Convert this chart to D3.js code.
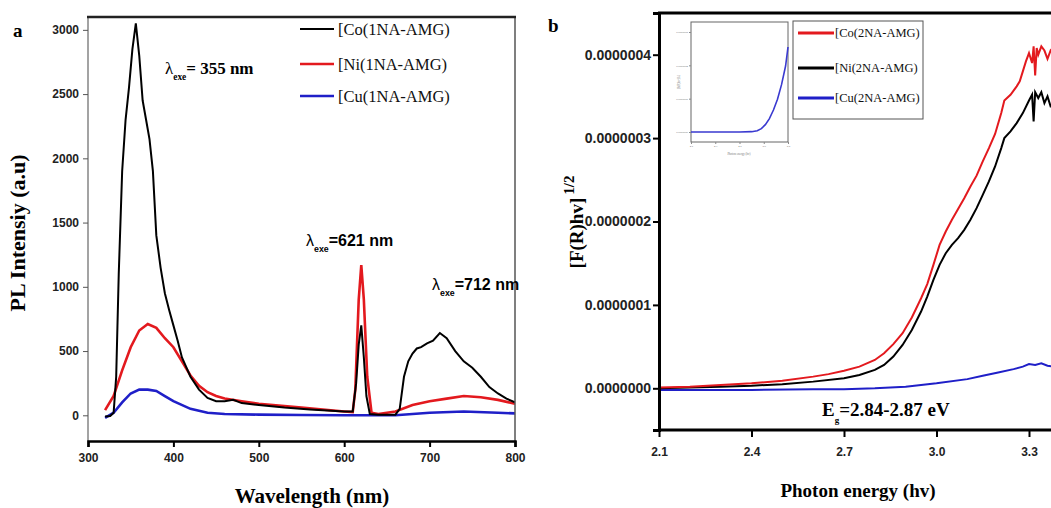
<!DOCTYPE html>
<html>
<head>
<meta charset="utf-8">
<script src="https://cdn.jsdelivr.net/npm/d3@7"></script>
<style>
  html, body { margin: 0; padding: 0; background: #fff; }
  svg { display: block; }
  .serif { font-family: "Liberation Serif", "DejaVu Serif", serif; font-weight: bold; }
  .sans { font-family: "Liberation Sans", Arial, sans-serif; font-weight: bold; }
</style>
</head>
<body>
<svg id="chart" width="1051" height="508"></svg>
<script>
// ---- panel a: PL spectra (wavelength nm, intensity a.u.) ----
const wlCo = [320, 326, 330, 333, 336, 340, 344, 348, 352, 356, 360, 364, 368, 372, 376, 380, 385, 390, 395, 400, 405, 410, 420, 430, 440, 450, 460, 470, 480, 500, 530, 560, 600, 610, 614, 617, 620, 623, 626, 630, 640, 660, 665, 670, 675, 680, 685, 690, 697, 704, 712, 720, 730, 740, 750, 760, 770, 780, 790, 800];
const plCo = [-10, -5, 20, 300, 1100, 1900, 2300, 2550, 2850, 3050, 2800, 2450, 2300, 2150, 1900, 1400, 1150, 950, 820, 700, 580, 450, 300, 200, 135, 110, 110, 120, 95, 80, 60, 45, 30, 30, 250, 550, 700, 450, 150, 10, 5, 5, 50, 300, 420, 480, 520, 530, 560, 580, 640, 600, 500, 420, 370, 300, 220, 170, 130, 100];

const wlNi = [320, 330, 340, 350, 360, 370, 380, 390, 400, 410, 420, 430, 440, 450, 460, 480, 500, 550, 600, 610, 613, 617, 620, 623, 627, 632, 640, 660, 680, 700, 720, 740, 760, 780, 800];
const plNi = [40, 150, 350, 530, 660, 710, 680, 600, 530, 420, 310, 230, 180, 150, 130, 110, 90, 60, 30, 25, 200, 900, 1170, 900, 300, 20, 10, 30, 80, 110, 130, 150, 140, 120, 90];

const wlCu = [320, 330, 340, 350, 360, 370, 380, 390, 400, 420, 440, 460, 500, 550, 600, 660, 700, 740, 780, 800];
const plCu = [-20, 20, 100, 170, 200, 200, 190, 150, 110, 50, 20, 10, 5, 2, 0, 0, 20, 30, 20, 15];

const yTicksA = [0, 500, 1000, 1500, 2000, 2500, 3000];
const xTicksA = [300, 400, 500, 600, 700, 800];
const legendA = ["[Co(1NA-AMG)", "[Ni(1NA-AMG)", "[Cu(1NA-AMG)"];

// ---- panel b: Kubelka-Munk plot (photon energy, [F(R)hv]^1/2 in 1e-7) ----
const evCo = [2.10, 2.20, 2.30, 2.40, 2.50, 2.60, 2.65, 2.70, 2.75, 2.80, 2.83, 2.86, 2.89, 2.92, 2.95, 2.97, 2.99, 3.01, 3.03, 3.05, 3.07, 3.09, 3.11, 3.13, 3.15, 3.17, 3.19, 3.21, 3.22, 3.24, 3.26, 3.27, 3.28, 3.29, 3.30, 3.31, 3.315, 3.32, 3.325, 3.33, 3.34, 3.35, 3.36, 3.37, 3.38];
const kmCo = [0.01, 0.02, 0.04, 0.06, 0.09, 0.14, 0.17, 0.21, 0.26, 0.34, 0.42, 0.53, 0.66, 0.85, 1.08, 1.25, 1.48, 1.72, 1.88, 2.02, 2.15, 2.28, 2.42, 2.55, 2.72, 2.88, 3.05, 3.30, 3.45, 3.52, 3.62, 3.68, 3.80, 3.92, 4.02, 3.90, 4.10, 3.75, 4.08, 4.00, 4.10, 4.05, 3.95, 4.05, 4.00];

const evNi = [2.10, 2.30, 2.40, 2.50, 2.60, 2.70, 2.75, 2.80, 2.83, 2.86, 2.89, 2.92, 2.95, 2.97, 2.99, 3.01, 3.03, 3.05, 3.07, 3.09, 3.11, 3.13, 3.15, 3.17, 3.19, 3.21, 3.22, 3.24, 3.26, 3.28, 3.30, 3.31, 3.315, 3.32, 3.33, 3.34, 3.35, 3.36, 3.37, 3.38];
const kmNi = [0.00, 0.02, 0.03, 0.05, 0.08, 0.12, 0.16, 0.22, 0.28, 0.38, 0.52, 0.70, 0.92, 1.10, 1.30, 1.48, 1.62, 1.72, 1.80, 1.90, 2.02, 2.16, 2.32, 2.48, 2.66, 2.88, 3.00, 3.08, 3.18, 3.30, 3.45, 3.52, 3.20, 3.55, 3.48, 3.55, 3.42, 3.50, 3.38, 3.40];

const evCu = [2.10, 2.40, 2.60, 2.70, 2.80, 2.90, 3.00, 3.10, 3.15, 3.20, 3.25, 3.28, 3.30, 3.32, 3.34, 3.36, 3.38];
const kmCu = [-0.02, -0.02, -0.01, -0.01, 0.00, 0.02, 0.06, 0.11, 0.15, 0.19, 0.23, 0.26, 0.29, 0.28, 0.30, 0.27, 0.26];

const yTicksB = [0, 1, 2, 3, 4];
const xTicksB = [2.1, 2.4, 2.7, 3.0, 3.3];
const legendB = ["[Co(2NA-AMG)", "[Ni(2NA-AMG)", "[Cu(2NA-AMG)"];

// inset (Cu curve, zoomed)
const insetX = [2.10, 2.40, 2.70, 2.85, 2.92, 2.97, 3.02, 3.07, 3.12, 3.17, 3.22, 3.27, 3.30];
const insetY = [0.00, 0.00, 0.00, 0.01, 0.04, 0.10, 0.22, 0.40, 0.66, 0.98, 1.42, 1.98, 2.55];
const insetYTicks = [0, 1, 2, 3];

const RED = "#e3191e", BLUE = "#1f1fc8", BLACK = "#000";
const SANS = '"Liberation Sans", Arial, sans-serif';

const svg = d3.select("#chart");

function styleTicks(sel, size) {
  sel.selectAll("text")
    .style("font-family", SANS).style("font-weight", "bold")
    .style("font-size", size + "px").attr("fill", "#222");
}

/* ------------------------------------------------------------------ */
/*  Panel a                                                           */
/* ------------------------------------------------------------------ */
const xa = d3.scaleLinear().domain([300, 800]).range([88, 515]);
const ya = d3.scaleLinear().domain([-200, 3100]).range([441, 17]);
const ga = svg.append("g");

ga.append("defs").append("clipPath").attr("id", "clipA")
  .append("rect").attr("x", 88).attr("y", 17).attr("width", 427).attr("height", 424);

const lineA = (xs) => d3.line().x((d, i) => xa(xs[i])).y((d) => ya(d));
const plotA = ga.append("g").attr("clip-path", "url(#clipA)");
plotA.append("path").datum(plCu).attr("d", lineA(wlCu)).attr("fill", "none").attr("stroke", BLUE).attr("stroke-width", 2.6);
plotA.append("path").datum(plNi).attr("d", lineA(wlNi)).attr("fill", "none").attr("stroke", RED).attr("stroke-width", 2.6);
plotA.append("path").datum(plCo).attr("d", lineA(wlCo)).attr("fill", "none").attr("stroke", BLACK).attr("stroke-width", 2);

// frame: thin left/right, thick top/bottom
ga.append("line").attr("x1", 88).attr("x2", 88).attr("y1", 17).attr("y2", 441).attr("stroke", "#666").attr("stroke-width", 1.2);
ga.append("line").attr("x1", 515).attr("x2", 515).attr("y1", 17).attr("y2", 441).attr("stroke", "#555").attr("stroke-width", 1.5);
ga.append("line").attr("x1", 87).attr("x2", 516).attr("y1", 17).attr("y2", 17).attr("stroke", "#222").attr("stroke-width", 2.5);

const axA = ga.append("g").attr("transform", "translate(88,0)")
  .call(d3.axisLeft(ya).tickValues(yTicksA).tickSize(5).tickPadding(4).tickFormat(d3.format("d")));
axA.select(".domain").remove();
axA.selectAll("line").attr("stroke", "#555");
styleTicks(axA, 12);

const axAx = ga.append("g").attr("transform", "translate(0,441)")
  .call(d3.axisBottom(xa).tickValues(xTicksA).tickSize(6).tickPadding(6).tickFormat(d3.format("d")));
axAx.select(".domain").attr("stroke", "#000").attr("stroke-width", 2.5);
axAx.selectAll("line").attr("stroke", "#000").attr("stroke-width", 2);
styleTicks(axAx, 12);

ga.append("text").attr("class", "serif").attr("x", 13).attr("y", 37).style("font-size", "19px").text("a");
ga.append("text").attr("class", "serif").attr("transform", "translate(25,233) rotate(-90)")
  .attr("text-anchor", "middle").style("font-size", "22px").text("PL Intensiy (a.u)");
ga.append("text").attr("class", "serif").attr("x", 312).attr("y", 503)
  .attr("text-anchor", "middle").style("font-size", "21px").text("Wavelength (nm)");

// legend a
const legColA = [BLACK, RED, BLUE];
legendA.forEach((t, i) => {
  const y = [29, 64, 96][i];
  ga.append("line").attr("x1", 300).attr("x2", 334).attr("y1", y).attr("y2", y)
    .attr("stroke", legColA[i]).attr("stroke-width", i === 0 ? 2.2 : 2.6);
  ga.append("text").attr("class", "serif").attr("x", 338).attr("y", y + 6)
    .style("font-size", "16.5px").style("font-weight", "normal").attr("fill", "#111").text(t);
});

// lambda annotations
function lambdaLabel(g, x, y, rest, cls, size) {
  const t = g.append("text").attr("class", cls).attr("x", x).attr("y", y).style("font-size", size + "px");
  t.append("tspan").text("λ").style("font-weight", "normal");
  t.append("tspan").attr("dy", 6).style("font-size", (size * 0.55) + "px").text("exe");
  t.append("tspan").attr("dy", -6).text(rest);
}
lambdaLabel(ga, 165, 74, "= 355 nm", "serif", 17);
lambdaLabel(ga, 306, 246, "=621 nm", "sans", 16);
lambdaLabel(ga, 432, 290, "=712 nm", "sans", 16);

/* ------------------------------------------------------------------ */
/*  Panel b                                                           */
/* ------------------------------------------------------------------ */
const xb = d3.scaleLinear().domain([2.1, 3.3]).range([659, 1029]);
const yb = d3.scaleLinear().domain([-0.5, 4.5]).range([430, 13]);
const gb = svg.append("g");

gb.append("defs").append("clipPath").attr("id", "clipB")
  .append("rect").attr("x", 659).attr("y", 13).attr("width", 420).attr("height", 417);

const lineB = (xs) => d3.line().x((d, i) => xb(xs[i])).y((d) => yb(d));
const plotB = gb.append("g").attr("clip-path", "url(#clipB)");
plotB.append("path").datum(kmCu).attr("d", lineB(evCu)).attr("fill", "none").attr("stroke", BLUE).attr("stroke-width", 2);
plotB.append("path").datum(kmNi).attr("d", lineB(evNi)).attr("fill", "none").attr("stroke", BLACK).attr("stroke-width", 2);
plotB.append("path").datum(kmCo).attr("d", lineB(evCo)).attr("fill", "none").attr("stroke", RED).attr("stroke-width", 2);

// frame
gb.append("line").attr("x1", 658).attr("x2", 1060).attr("y1", 13).attr("y2", 13).attr("stroke", "#000").attr("stroke-width", 3);

const axB = gb.append("g").attr("transform", "translate(659,0)")
  .call(d3.axisLeft(yb).tickValues(yTicksB).tickSize(6).tickPadding(2).tickFormat((d) => (d * 1e-7).toFixed(7)));
axB.select(".domain").attr("stroke", "#000").attr("stroke-width", 3);
axB.selectAll("line").attr("stroke", "#000").attr("stroke-width", 2);
styleTicks(axB, 14);

const axBx = gb.append("g").attr("transform", "translate(0,430)")
  .call(d3.axisBottom(xb).tickValues(xTicksB).tickSize(7).tickPadding(10).tickFormat(d3.format(".1f")));
axBx.select(".domain").attr("d", "M659,0H1060").attr("stroke", "#000").attr("stroke-width", 3);
axBx.selectAll("line").attr("stroke", "#000").attr("stroke-width", 2);
styleTicks(axBx, 12);

gb.append("text").attr("class", "serif").attr("x", 548).attr("y", 32).style("font-size", "19px").text("b");

const ylab = gb.append("text").attr("class", "serif").attr("transform", "translate(583,222) rotate(-90)")
  .attr("text-anchor", "middle").style("font-size", "19px");
ylab.append("tspan").text("[F(R)hv]");
ylab.append("tspan").attr("dx", 3).attr("dy", -9).style("font-size", "15px").text("1/2");

gb.append("text").attr("class", "serif").attr("x", 858).attr("y", 497)
  .attr("text-anchor", "middle").style("font-size", "19px").text("Photon energy (hv)");

const eg = gb.append("text").attr("class", "serif").attr("x", 822).attr("y", 416).style("font-size", "19px");
eg.append("tspan").text("E");
eg.append("tspan").attr("dy", 7).style("font-size", "9px").text("g");
eg.append("tspan").attr("dy", -7).text("=2.84-2.87 eV");

// legend b
gb.append("rect").attr("x", 793).attr("y", 21).attr("width", 130).attr("height", 98)
  .attr("fill", "#fff").attr("stroke", "#555").attr("stroke-width", 1);
const legColB = [RED, BLACK, BLUE];
legendB.forEach((t, i) => {
  const y = [33, 68, 98][i];
  gb.append("line").attr("x1", 798).attr("x2", 834).attr("y1", y).attr("y2", y)
    .attr("stroke", legColB[i]).attr("stroke-width", 3);
  gb.append("text").attr("class", "serif").attr("x", 835).attr("y", y + 4)
    .style("font-size", "12.5px").style("font-weight", "normal").attr("fill", "#111").text(t);
});

// inset
const xi = d3.scaleLinear().domain([2.1, 3.3]).range([691, 788]);
const yi = d3.scaleLinear().domain([-0.3, 3.3]).range([142, 22]);
const gi = gb.append("g");
gi.append("rect").attr("x", 691).attr("y", 22).attr("width", 97).attr("height", 120)
  .attr("fill", "#fff").attr("stroke", "#666").attr("stroke-width", 1);
const axI = gi.append("g").attr("transform", "translate(691,0)")
  .call(d3.axisLeft(yi).tickValues(insetYTicks).tickSize(2).tickPadding(1).tickFormat((d) => (d * 1e-7).toFixed(7)));
axI.select(".domain").remove();
axI.selectAll("line").attr("stroke", "#888");
axI.selectAll("text").style("font-size", "2.5px").attr("fill", "#777");
const axIx = gi.append("g").attr("transform", "translate(0,142)")
  .call(d3.axisBottom(xi).tickValues(xTicksB).tickSize(2).tickPadding(1).tickFormat(d3.format(".1f")));
axIx.select(".domain").remove();
axIx.selectAll("line").attr("stroke", "#888");
axIx.selectAll("text").style("font-size", "2.5px").attr("fill", "#777");
gi.append("text").attr("x", 739).attr("y", 155).attr("text-anchor", "middle")
  .style("font-size", "3px").attr("fill", "#777").text("Photon energy (hv)");
gi.append("text").attr("transform", "translate(680,82) rotate(-90)").attr("text-anchor", "middle")
  .style("font-size", "3px").attr("fill", "#777").text("[F(R)hv]1/2");
gi.append("path").datum(insetY).attr("d", d3.line().x((d, i) => xi(insetX[i])).y((d) => yi(d)))
  .attr("fill", "none").attr("stroke", "#3a3ad0").attr("stroke-width", 1.6);
</script>
</body>
</html>
